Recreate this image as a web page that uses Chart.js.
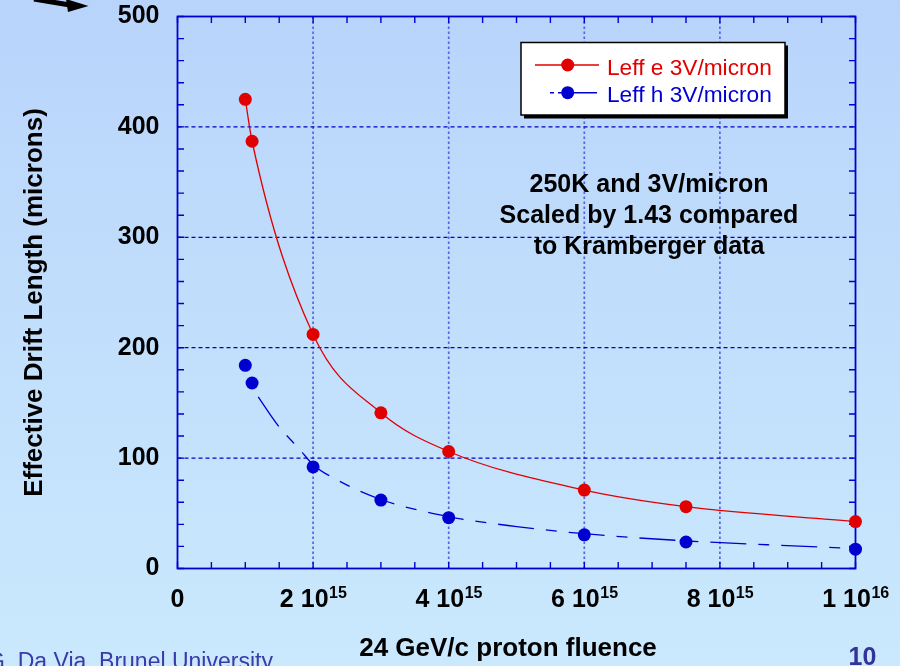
<!DOCTYPE html>
<html><head><meta charset="utf-8">
<script src="https://cdn.jsdelivr.net/npm/chart.js@4"></script>
<style>html,body{margin:0;padding:0;background:#c2dffc;overflow:hidden}canvas{display:block}</style>
</head><body><canvas id="c" width="900" height="666"></canvas>
<script>
// Fluence in units of 1e15 p/cm^2
const fluenceE = [1, 1.1, 2, 3, 4, 6, 7.5, 10];
const leffE = [425, 387, 212, 141, 106, 71, 56, 42.5];
const fluenceH = [1, 1.1, 2, 3, 4, 6, 7.5, 10];
const leffH = [184, 168, 92, 62, 46, 30.5, 24, 17.5];
// dashed fit curve for holes
const fitHX = [1.19, 1.49, 1.8, 2, 2.33, 3, 4, 5, 6, 7.5, 8.7, 9.85];
const fitHY = [155.5, 129, 108, 94, 81, 62.5, 47, 38, 31.5, 25, 21.5, 18.5];
const xTickValues = [0, 2, 4, 6, 8, 10];
const xTickBase = ['0', '2 10', '4 10', '6 10', '8 10', '1 10'];
const xTickSup = ['', '15', '15', '15', '15', '16'];
const yTickValues = [0, 100, 200, 300, 400, 500];
const seriesNames = ['Leff e 3V/micron', 'Leff h 3V/micron'];
const noteLines = ['250K and 3V/micron', 'Scaled by 1.43 compared', 'to Kramberger data'];
const xTitle = '24 GeV/c proton fluence';
const yTitle = 'Effective Drift Length (microns)';
const footer = 'G. Da Via, Brunel University';
const pageNo = '10';

const FONT = '"Liberation Sans", Arial, Helvetica, sans-serif';
const RED = '#e10000', BLUE = '#0000d0';

const deco = {
  id: 'deco',
  beforeDraw(chart) {
    const ctx = chart.ctx;
    const g = ctx.createLinearGradient(0, 0, 0, chart.height);
    g.addColorStop(0, '#b9d4fb'); g.addColorStop(1, '#cae9fd');
    ctx.save(); ctx.fillStyle = g; ctx.fillRect(0, 0, chart.width, chart.height); ctx.restore();
  },
  beforeDatasetsDraw(chart) {
    const { ctx, chartArea: a, scales: { x, y } } = chart;
    ctx.save();
    // vertical dotted grid
    ctx.strokeStyle = '#5266e6'; ctx.lineWidth = 1.7; ctx.setLineDash([2.5, 2.5]);
    xTickValues.forEach(v => {
      if (v <= x.min || v >= x.max) return;
      const px = x.getPixelForValue(v);
      ctx.beginPath(); ctx.moveTo(px, a.top); ctx.lineTo(px, a.bottom); ctx.stroke();
    });
    // horizontal dashed grid
    ctx.strokeStyle = '#0000c8'; ctx.lineWidth = 1.3; ctx.setLineDash([4, 3]);
    yTickValues.forEach(v => {
      if (v <= y.min || v >= y.max) return;
      const py = y.getPixelForValue(v);
      ctx.beginPath(); ctx.moveTo(a.left, py); ctx.lineTo(a.right, py); ctx.stroke();
    });
    ctx.setLineDash([]);
    // inward minor ticks on all four sides
    ctx.strokeStyle = BLUE; ctx.lineWidth = 1.4;
    const L = 6.5;
    for (let i = 0; i <= 20; i++) {
      const px = x.getPixelForValue(x.min + i * (x.max - x.min) / 20);
      ctx.beginPath();
      ctx.moveTo(px, a.bottom); ctx.lineTo(px, a.bottom - L);
      ctx.moveTo(px, a.top); ctx.lineTo(px, a.top + L);
      ctx.stroke();
    }
    for (let i = 0; i <= 25; i++) {
      const py = y.getPixelForValue(y.min + i * (y.max - y.min) / 25);
      ctx.beginPath();
      ctx.moveTo(a.left, py); ctx.lineTo(a.left + L, py);
      ctx.moveTo(a.right, py); ctx.lineTo(a.right - L, py);
      ctx.stroke();
    }
    ctx.lineWidth = 1.8;
    ctx.strokeRect(a.left, a.top, a.right - a.left, a.bottom - a.top);
    ctx.restore();
  },
  afterDraw(chart) {
    const { ctx, chartArea: a, scales: { x } } = chart;
    ctx.save();
    // x tick labels with superscripts
    ctx.fillStyle = '#000'; ctx.textBaseline = 'alphabetic';
    xTickValues.forEach((v, i) => {
      const px = x.getPixelForValue(v);
      ctx.font = 'bold 25px ' + FONT;
      const wb = ctx.measureText(xTickBase[i]).width;
      ctx.font = 'bold 16px ' + FONT;
      const ws = xTickSup[i] ? ctx.measureText(xTickSup[i]).width : 0;
      const x0 = px - (wb + ws) / 2;
      ctx.font = 'bold 25px ' + FONT; ctx.textAlign = 'left';
      ctx.fillText(xTickBase[i], x0, 607);
      if (xTickSup[i]) { ctx.font = 'bold 16px ' + FONT; ctx.fillText(xTickSup[i], x0 + wb + 0.5, 598); }
    });
    // axis titles
    ctx.font = 'bold 26px ' + FONT; ctx.textAlign = 'center';
    ctx.fillText(xTitle, 508, 656);
    ctx.save(); ctx.translate(42, 302.5); ctx.rotate(-Math.PI / 2);
    ctx.fillText(yTitle, 0, 0); ctx.restore();
    // annotation
    ctx.font = 'bold 25px ' + FONT;
    const nb = [192, 223, 254];
    noteLines.forEach((t, i) => ctx.fillText(t, 649, nb[i]));
    // legend
    ctx.fillStyle = '#000'; ctx.fillRect(524, 45.5, 264, 73);
    ctx.fillStyle = '#fff'; ctx.fillRect(521, 42.5, 264, 72.5);
    ctx.strokeStyle = '#000'; ctx.lineWidth = 1.5; ctx.strokeRect(521, 42.5, 264, 72.5);
    ctx.lineWidth = 1.4;
    ctx.strokeStyle = RED; ctx.beginPath(); ctx.moveTo(535, 65); ctx.lineTo(599, 65); ctx.stroke();
    ctx.fillStyle = RED; ctx.beginPath(); ctx.arc(567.7, 65, 6.5, 0, Math.PI * 2); ctx.fill();
    ctx.strokeStyle = BLUE; ctx.beginPath(); ctx.moveTo(550, 92.7); ctx.lineTo(554, 92.7); ctx.moveTo(558, 92.7); ctx.lineTo(597, 92.7); ctx.stroke();
    ctx.fillStyle = BLUE; ctx.beginPath(); ctx.arc(567.7, 92.7, 6.5, 0, Math.PI * 2); ctx.fill();
    ctx.font = '22.7px ' + FONT; ctx.textAlign = 'left';
    ctx.fillStyle = RED; ctx.fillText(seriesNames[0], 607, 75);
    ctx.fillStyle = BLUE; ctx.fillText(seriesNames[1], 607, 101.7);
    // footer
    ctx.fillStyle = '#3a3aa8'; ctx.font = '23px ' + FONT;
    ctx.fillText(footer, -13, 669);
    ctx.fillStyle = '#333399'; ctx.font = 'bold 25px ' + FONT; ctx.textAlign = 'center';
    ctx.fillText(pageNo, 862.5, 665);
    // arrow decoration
    ctx.fillStyle = '#000'; ctx.strokeStyle = '#000'; ctx.lineWidth = 5;
    ctx.beginPath(); ctx.moveTo(34, -1); ctx.lineTo(70, 5); ctx.stroke();
    ctx.beginPath(); ctx.moveTo(66, -1); ctx.lineTo(88.5, 6); ctx.lineTo(68, 12); ctx.closePath(); ctx.fill();
    ctx.restore();
  }
};

const ptsE = fluenceE.map((v, i) => ({ x: v, y: leffE[i] }));
const ptsH = fluenceH.map((v, i) => ({ x: v, y: leffH[i] }));
const ptsFit = fitHX.map((v, i) => ({ x: v, y: fitHY[i] }));

new Chart(document.getElementById('c'), {
  type: 'scatter',
  data: {
    datasets: [
      { label: seriesNames[0], data: ptsE, showLine: true, cubicInterpolationMode: 'monotone',
        borderColor: RED, borderWidth: 1.3, backgroundColor: RED, pointBackgroundColor: RED,
        pointBorderWidth: 0, pointRadius: 6.5, clip: false },
      { label: 'fit h', data: ptsFit, showLine: true, cubicInterpolationMode: 'monotone',
        borderColor: BLUE, borderWidth: 1.3, borderDash: [36, 12, 11, 12], pointRadius: 0, clip: false },
      { label: seriesNames[1], data: ptsH, showLine: false, backgroundColor: BLUE,
        pointBackgroundColor: BLUE, pointBorderWidth: 0, pointRadius: 6.5, clip: false }
    ]
  },
  options: {
    responsive: false, animation: false, devicePixelRatio: 1,
    layout: { padding: { top: 16.5, right: 44.5, bottom: 97.5, left: 0 } },
    plugins: { legend: { display: false }, tooltip: { enabled: false } },
    elements: { point: { hoverRadius: 6.5 } },
    scales: {
      x: { type: 'linear', min: 0, max: 10, grid: { display: false, drawTicks: false },
        border: { display: false }, ticks: { display: false },
        afterFit: s => { s.height = 0; s.paddingLeft = 0; s.paddingRight = 0; } },
      y: { type: 'linear', min: 0, max: 500, grid: { display: false, drawTicks: false },
        border: { display: false },
        ticks: { stepSize: 100, padding: 18, color: '#000', font: { family: FONT, size: 25, weight: 'bold' } },
        afterFit: s => { s.width = 177.5; s.paddingTop = 0; s.paddingBottom = 0; } }
    }
  },
  plugins: [deco]
});
</script>
</body></html>
